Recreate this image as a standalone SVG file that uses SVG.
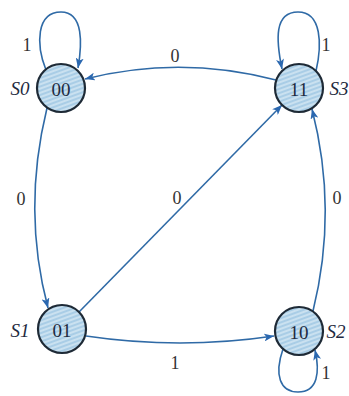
<svg xmlns="http://www.w3.org/2000/svg" width="349" height="396" viewBox="0 0 349 396">
<defs>
<pattern id="hatch" width="4" height="4" patternUnits="userSpaceOnUse" patternTransform="rotate(-20)">
<rect width="4" height="4" fill="#a9cde6"/>
<line x1="0" y1="1" x2="4" y2="1" stroke="#dcecf6" stroke-width="1.3"/>
</pattern>
<marker id="arr" viewBox="0 0 10 8" refX="10" refY="4" markerWidth="10" markerHeight="8" markerUnits="userSpaceOnUse" orient="auto">
<path d="M0,0 L10,4 L0,8 L2.5,4 Z" fill="#2b68b0"/>
</marker>
<style>
.node circle{fill:url(#hatch);stroke:#1e2a36;stroke-width:2.2}
.node text{font-family:"Liberation Serif",serif;font-size:19px;fill:#1e2a40;text-anchor:middle;dominant-baseline:central}
.sl{font-family:"Liberation Serif",serif;font-style:italic;font-size:19px;fill:#222;text-anchor:middle;dominant-baseline:central}
.lab{font-family:"Liberation Serif",serif;font-size:18px;fill:#333;text-anchor:middle;dominant-baseline:central}
.edge{fill:none;stroke:#2f6aa6;stroke-width:1.6;marker-end:url(#arr)}
</style>
</defs>
<rect width="349" height="396" fill="#ffffff"/>
<g id="connectors">
<path class="edge" d="M276,80 Q180,55 85,79"/>
<path class="edge" d="M47,108 Q22,210 48,308"/>
<path class="edge" d="M313,311 Q338,210 312,109"/>
<path class="edge" d="M86,336 Q180,350 274,336"/>
<path class="edge" d="M79,312 L282,105"/>
<path class="edge" d="M46,70 C36,45 36,12 61,12 C84,12 82,45 78,68"/>
<path class="edge" d="M316,71 C322,45 322,12 298,12 C274,12 276,40 282,69"/>
<path class="edge" d="M283,349 C274,375 280,392 298,392 C318,392 320,372 315,350"/>
<text class="lab" x="175" y="56">0</text>
<text class="lab" x="21" y="199">0</text>
<text class="lab" x="177" y="198">0</text>
<text class="lab" x="337" y="198">0</text>
<text class="lab" x="175" y="363">1</text>
<text class="lab" x="27" y="45">1</text>
<text class="lab" x="326" y="45">1</text>
<text class="lab" x="326" y="373">1</text>
</g>
<g id="S0" class="node">
<circle cx="61" cy="88" r="24"/>
<text x="61" y="89">00</text>
<text class="sl" x="20" y="88">S0</text>
</g>
<g id="S3" class="node">
<circle cx="299" cy="88" r="24"/>
<text x="299" y="89">11</text>
<text class="sl" x="339" y="88">S3</text>
</g>
<g id="S1" class="node">
<circle cx="62" cy="329" r="24"/>
<text x="62" y="330">01</text>
<text class="sl" x="20" y="330">S1</text>
</g>
<g id="S2" class="node">
<circle cx="299" cy="331" r="24"/>
<text x="299" y="332">10</text>
<text class="sl" x="336" y="331">S2</text>
</g>
</svg>
